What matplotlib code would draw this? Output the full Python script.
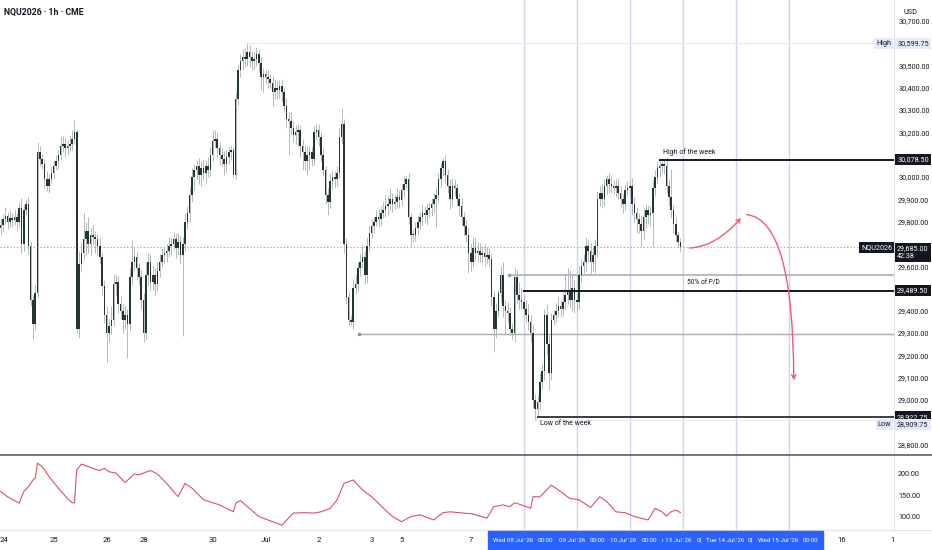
import numpy as np
import matplotlib.pyplot as plt
from matplotlib.patches import Rectangle, FancyArrowPatch
from matplotlib.lines import Line2D
from matplotlib import transforms

plt.rcParams['font.family'] = ['Roboto', 'DejaVu Sans']

# hourly closes, one line per session day
closes = [
    # Jun 24
    29784, 29810, 29825, 29800, 29815, 29805, 29820, 29800, 29860, 29700, 29850, 29880,
    29690, 29450, 29340, 29480, 30110, 30080, 30060, 29990, 29960, 29990, 30020,
    # Jun 25
    30050, 30070, 30100, 30140, 30150, 30130, 30140, 30150, 30170, 30200, 29320, 29610,
    29660, 29720, 29760, 29700, 29740, 29730, 29720, 29690, 29640, 29510, 29380,
    # Jun 26
    29300, 29330, 29360, 29520, 29530, 29430, 29400, 29360, 29380, 29340, 29550, 29620,
    29640, 29590, 29550, 29450,
    # Jun 28
    29300, 29560, 29620, 29530, 29560, 29520, 29580,
    # Jun 29
    29620, 29650, 29660, 29670, 29690, 29700, 29720, 29680, 29710, 29650, 29700, 29800,
    29840, 29920, 30000, 30030, 30050, 30010, 30040, 30020, 30050, 30030, 30100,
    # Jun 30
    30160, 30170, 30130, 30100, 30080, 30060, 30090, 30110, 30120, 30010, 30350, 30480,
    30520, 30540, 30530, 30560, 30540, 30520, 30530, 30550, 30510, 30450, 30460,
    # Jul 1
    30450, 30440, 30420, 30380, 30400, 30390, 30410, 30380, 30320, 30260, 30250, 30220,
    30190, 30200, 30210, 30140, 30110, 30070, 30100, 30110, 30080, 30200, 30210,
    # Jul 2
    30180, 30100, 30030, 29920, 29890, 29980, 30000, 29990, 30020, 30180, 30240, 29700,
    29460, 29360, 29350, 29500, 29520, 29590, 29620, 29640, 29560, 29690, 29750,
    # Jul 3
    29780, 29800, 29820, 29810, 29840, 29850, 29870, 29880, 29900, 29880, 29890, 29910, 29895,
    # Jul 5
    29940, 29970, 29990, 29820, 29740, 29740, 29770,
    # Jul 6
    29800, 29820, 29840, 29830, 29850, 29860, 29880, 29900, 29920, 29990, 30040, 30070,
    30010, 29960, 29900, 29960, 29950, 29900, 29870, 29820, 29780, 29740, 29660,
    # Jul 7
    29620, 29680, 29660, 29670, 29650, 29660, 29640, 29650, 29630, 29460, 29320, 29400,
    29480, 29560, 29420, 29400, 29390, 29320, 29300, 29550, 29470, 29450, 29440,
    # Jul 8
    29410, 29380, 29350, 29300, 29000, 28960, 28990, 29080, 29130, 29380, 29250, 29120,
    29360, 29380, 29400, 29420, 29410, 29440, 29470, 29490, 29450, 29500, 29450,
    # Jul 9
    29440, 29560, 29600, 29620, 29690, 29670, 29620, 29650, 29690, 29900, 29930, 29900,
    29960, 29990, 29970, 29960, 29950, 29960, 29930, 29900, 29880, 29940, 29950,
    # Jul 10
    29960, 29880, 29840, 29810, 29790, 29760, 29820, 29850, 29830, 29840, 29950, 30000,
    30040, 30050, 30060, 30050,
    # Jul 12
    29960, 29910, 29850, 29790, 29740, 29710, 29685,
]
first_open = 29770

# wick length above / below the body, points
wick_up = [
    30, 25, 40, 20, 35, 25, 30, 20, 30, 45, 25, 15, 30, 25, 20, 40, 48, 30, 25, 20, 35, 25, 30,
    25, 30, 20, 45, 35, 30, 25, 40, 40, 55, 10, 60, 50, 120, 40, 60, 35, 45, 30, 25, 40, 20, 30,
    40, 35, 60, 45, 30, 25, 40, 30, 45, 30, 40, 97, 40, 30, 25, 35,
    30, 60, 40, 35, 45, 30, 40,
    35, 30, 25, 30, 40, 30, 35, 30, 40, 25, 30, 40, 30, 35, 40, 30, 25, 35, 30, 40, 25, 40, 35,
    50, 40, 30, 25, 30, 35, 30, 25, 20, 15, 30, 25, 30, 35, 40, 40, 30, 25, 30, 35, 25, 30, 30,
    25, 30, 20, 35, 40, 30, 25, 30, 20, 35, 30, 40, 30, 35, 30, 25, 30, 35, 40, 30, 25, 30, 30,
    30, 25, 30, 20, 30, 40, 30, 25, 30, 40, 70, 20, 25, 30, 20, 40, 45, 30, 35, 60, 30, 40, 35,
    30, 25, 30, 35, 30, 40, 50, 35, 50, 30, 35, 40, 30,
    30, 35, 19, 30, 20, 25, 30,
    30, 25, 40, 30, 35, 30, 25, 30, 35, 30, 25, 14, 30, 25, 30, 35, 30, 25, 30, 35, 25, 30, 30,
    40, 50, 45, 40, 35, 30, 40, 35, 30, 25, 30, 35, 15, 40, 60, 30, 40, 25, 25, 40, 35, 60, 50,
    30, 40, 50, 30, 40, 25, 30, 40, 35, 30, 50, 40, 30, 25, 35, 40, 30, 40, 90, 100, 95, 60, 40,
    30, 40, 30, 35, 40, 30, 35, 40, 30, 35, 30, 40, 30, 20, 30, 35, 25, 30, 35, 30, 25, 30, 30,
    30, 35, 30, 25, 30, 35, 40, 30, 25, 30, 35, 30, 28, 25, 18, 20,
    40, 30, 124, 25, 30, 20, 15,
]
wick_dn = [
    25, 30, 20, 35, 25, 30, 20, 40, 25, 40, 30, 20, 35, 30, 70, 25, 20, 30, 25, 40, 24, 30, 20,
    30, 20, 35, 25, 30, 40, 30, 25, 30, 20, 20, 40, 35, 30, 70, 40, 50, 35, 60, 45, 30, 40, 35,
    130, 40, 35, 30, 50, 40, 35, 60, 40, 150, 30, 35, 40, 50, 30, 40,
    40, 30, 50, 40, 35, 50, 30,
    30, 25, 35, 40, 30, 35, 25, 45, 30, 40, 365, 30, 35, 40, 30, 60, 45, 40, 50, 35, 45, 30, 25,
    30, 25, 40, 45, 30, 50, 40, 30, 35, 10, 20, 25, 30, 40, 35, 30, 45, 40, 35, 30, 40, 60, 70,
    30, 40, 25, 60, 30, 40, 35, 45, 30, 40, 150, 30, 35, 40, 60, 50, 80, 40, 60, 70, 30, 25, 30,
    40, 30, 25, 40, 60, 30, 35, 40, 30, 25, 30, 40, 30, 25, 14, 30, 25, 30, 35, 30, 40, 35, 25,
    25, 30, 20, 35, 30, 25, 30, 40, 30, 35, 25, 30, 35,
    25, 30, 20, 30, 52, 30, 25,
    30, 35, 40, 30, 45, 30, 35, 40, 123, 30, 35, 30, 40, 30, 45, 30, 35, 30, 40, 35, 40, 30, 92,
    40, 30, 35, 40, 30, 35, 40, 30, 35, 40, 103, 40, 30, 40, 50, 106, 40, 30, 30, 40, 35, 40, 30,
    40, 30, 35, 40, 30, 50, 40, 35, 30, 40, 50, 75, 30, 25, 35, 30, 40, 35, 30, 40, 35, 50, 60,
    40, 30, 35, 30, 40, 50, 60, 40, 80, 50, 30, 40, 30, 35, 40, 30, 25, 40, 30, 35, 40, 30, 25,
    40, 50, 40, 60, 40, 70, 40, 50, 40, 50, 150, 35, 30, 40, 30, 35,
    30, 40, 35, 40, 30, 25, 20,
]

# lower pane indicator, sampled at bar numbers
ind_bars = [0, 3, 8, 10, 12, 14, 15, 16, 18, 21, 25, 29, 31, 32, 33, 35, 38, 41, 43, 45,
            47, 50, 54, 58, 60, 62, 65, 68, 72, 77, 80, 83, 88, 95, 101, 102, 104, 108, 112, 118,
            122, 127, 132, 136, 139, 143, 146, 149, 153, 157, 161, 167, 170, 174, 178, 182, 188, 192, 195, 201,
            205, 211, 214, 218, 221, 223, 226, 230, 231, 234, 239, 243, 247, 251, 256, 260, 263, 267, 271, 275,
            281, 284, 287, 289, 291, 293, 295]
ind_vals = [159, 147, 132, 159, 170, 186, 190, 225, 217, 194, 167, 143, 133, 133, 209, 223, 217, 211, 208, 213,
            205, 202, 180, 200, 198, 202, 208, 200, 178, 147, 178, 167, 140, 128, 112, 132, 138, 120, 101, 89,
            81, 109, 110, 109, 112, 120, 140, 178, 186, 163, 147, 116, 101, 89, 101, 105, 93, 110, 112, 109,
            107, 97, 124, 128, 124, 133, 128, 120, 147, 147, 174, 159, 143, 140, 122, 147, 136, 112, 110, 101,
            93, 120, 112, 102, 112, 116, 110]

day_ticks = [1.6, 23, 46, 62, 92, 115, 138, 161, 174, 204, 365, 387]
day_labels = ['24', '25', '26', '28', '30', 'Jul', '2', '3', '5', '7', '16', '1']
day_lines = [227, 250, 273, 296, 319, 342]

price_ticks = [30700, 30500, 30400, 30300, 30200, 30000, 29900, 29800, 29600,
               29400, 29300, 29200, 29100, 29000, 28800]
ind_ticks = [200, 150, 100]

week_high = 30078.50
mid_pd = 29489.50
week_low = 28922.75
last_price = 29685.00
hi_mark = 30599.75
lo_mark = 28909.75
level_a = 29561
level_b = 29294

range_labels = ["Wed 08 Jul '26", "00:00", "09 Jul '26", "00:00", "10 Jul '26", "00:00",
                "ı 13 Jul '26", "0(", "Tue 14 Jul '26", "0(", "Wed 15 Jul '26", "00:00"]
range_px = [493, 538, 559, 590, 610, 642, 662, 697, 706, 748, 758, 803]

W, H = 932, 550
txt = '#131722'
fs = 5.2
fig = plt.figure(figsize=(W / 100, H / 100), dpi=100)
ax = fig.add_axes([0, 95 / H, 894 / W, 455 / H])
ax2 = fig.add_axes([0, 20 / H, 894 / W, 75 / H])

xmin, xmax = -0.3, 387.7
n = len(closes)
idx = np.arange(n)
c = np.array(closes, float)
o = np.r_[first_open, c[:-1]]
hi = np.maximum(o, c) + np.array(wick_up)
lo = np.minimum(o, c) - np.array(wick_dn)

ax.vlines(idx, lo, hi, color='#b4b7bb', lw=0.7, zorder=3)
bot = np.minimum(o, c)
hgt = np.maximum(np.abs(c - o), 4)
up = c >= o
ax.bar(idx[up], hgt[up], bottom=bot[up], width=0.68, color='#1d3a33', lw=0, zorder=4)
ax.bar(idx[~up], hgt[~up], bottom=bot[~up], width=0.68, color='#263330', lw=0, zorder=4)

for d in day_lines:
    ax.axvline(d, color='#cdd1f3', lw=1, zorder=1)
    ax2.axvline(d, color='#cdd1f3', lw=1, zorder=1)

# levels
ax.axhline(last_price, color='#f7525f', lw=0.8, ls=(0, (1, 2)), alpha=0.8, zorder=2)
ax.hlines(hi_mark, 107, xmax, color='#ececec', lw=0.8, zorder=1)
ax.hlines(lo_mark, 232, xmax, color='#ececec', lw=0.8, zorder=1)
ax.hlines(level_a, 220.5, xmax, color='#b9bcc2', lw=1.5, zorder=2)
ax.plot([220.5], [level_a], 'o', ms=1.5, color='#9a9da3', zorder=2)
ax.hlines(level_b, 155.4, xmax, color='#a9acb2', lw=1.0, zorder=2)
ax.plot([155.4], [level_b], 'o', ms=1.5, color='#8a8d93', zorder=2)
ax.hlines(week_high, 285.7, xmax, color='#131722', lw=1.4, zorder=5)
ax.hlines(mid_pd, 226.6, xmax, color='#131722', lw=1.4, zorder=5)
ax.hlines(week_low, 232.6, xmax, color='#3a3d44', lw=1.4, zorder=5)

ax.text(287.3, week_high + 14, 'High of the week', fontsize=5.0, color=txt, va='bottom')
ax.text(297.8, 29525, '50% of P/D', fontsize=4.8, color=txt, va='center')
ax.text(234, 28895, 'Low of the week', fontsize=5.0, color=txt, va='center')

# projected path
red = '#ef5b76'
a1 = FancyArrowPatch((297.7, 29681), (322, 29825), connectionstyle='angle3,angleA=0,angleB=50',
                     arrowstyle='->,head_length=2.5,head_width=1.5', color=red, lw=1, zorder=6)
a2 = FancyArrowPatch((322.5, 29832), (344.2, 29075), connectionstyle='angle3,angleA=0,angleB=90',
                     arrowstyle='->,head_length=3,head_width=1.5', color=red, lw=1, zorder=6)
ax.add_patch(a1)
ax.add_patch(a2)

ax.set_xlim(xmin, xmax)
ax.set_ylim(28753, 30794)
ax.yaxis.tick_right()
ax.set_yticks(price_ticks)
ax.set_yticklabels([f'{p:,.2f}' for p in price_ticks])
ax.tick_params(axis='y', length=0, pad=3, labelsize=fs, labelcolor=txt)
ax.set_xticks([])
for s in ['top', 'left', 'bottom']:
    ax.spines[s].set_visible(False)
ax.spines['right'].set_color('#e0e3eb')

# axis tags
tr = transforms.blended_transform_factory(ax.transAxes, ax.transData)
dark = dict(boxstyle='square,pad=0.3', fc='#131722', ec='none')
pale = dict(boxstyle='square,pad=0.3', fc='#e4ecf9', ec='none')
for val in [week_high, mid_pd, week_low]:
    ax.text(1.0035, val, f'{val:,.2f}', transform=tr, ha='left', va='center', fontsize=fs,
            color='white', bbox=dark, clip_on=False, zorder=10)
ax.text(1.0035, last_price - 25, f'{last_price:,.2f}\n42:38', transform=tr, ha='left', va='center',
        fontsize=fs, color='white', linespacing=1.1, bbox=dark, clip_on=False, zorder=10)
ax.text(0.998, last_price, 'NQU2026', transform=tr, ha='right', va='center', fontsize=fs,
        color='white', bbox=dark, zorder=10)
ax.text(1.0035, hi_mark, f'{hi_mark:,.2f}', transform=tr, ha='left', va='center', fontsize=fs,
        color=txt, bbox=pale, clip_on=False, zorder=10)
ax.text(0.997, hi_mark, 'High', transform=tr, ha='right', va='center', fontsize=fs,
        color=txt, bbox=pale, zorder=10)
ax.text(1.0035, lo_mark - 20, f'{lo_mark:,.2f}', transform=tr, ha='left', va='center', fontsize=fs,
        color=txt, bbox=pale, clip_on=False, zorder=10)
ax.text(0.997, lo_mark - 20, 'Low', transform=tr, ha='right', va='center', fontsize=fs,
        color=txt, bbox=pale, zorder=10)

# lower pane
ax2.plot(ind_bars, ind_vals, color='#d9506a', lw=0.8, zorder=3)
ax2.set_xlim(xmin, xmax)
ax2.set_ylim(69.7, 244)
ax2.yaxis.tick_right()
ax2.set_yticks(ind_ticks)
ax2.set_yticklabels([f'{v:.2f}' for v in ind_ticks])
ax2.tick_params(axis='y', length=0, pad=3, labelsize=fs, labelcolor=txt)
ax2.set_xticks(day_ticks)
ax2.set_xticklabels(day_labels)
ax2.tick_params(axis='x', length=0, pad=5, labelsize=5.6, labelcolor=txt)
for s in ['top', 'left']:
    ax2.spines[s].set_visible(False)
ax2.spines['right'].set_color('#e0e3eb')
ax2.spines['bottom'].set_color('#e0e3eb')

fig.add_artist(Line2D([0, 1], [95 / H, 95 / H], color='#5d606b', lw=1.2))
fig.add_artist(Line2D([0, 1], [20 / H, 20 / H], color='#e0e3eb', lw=0.8))

# selected date range on the time scale
fig.add_artist(Rectangle((488 / W, 0), (823 - 488) / W, 19 / H, transform=fig.transFigure,
                         color='#2962ff', zorder=5))
for lab, px in zip(range_labels, range_px):
    fig.text(px / W, 9.5 / H, lab, fontsize=4.5, color='white', ha='left', va='center', zorder=6)

fig.text(4 / W, 1 - 12 / H, 'NQU2026 · 1h · CME', fontsize=6.3, color=txt, weight='bold',
         ha='left', va='center')
fig.text(903 / W, 1 - 12 / H, 'USD', fontsize=fs, color=txt, ha='left', va='center')

fig.savefig('out.png', dpi=100)
